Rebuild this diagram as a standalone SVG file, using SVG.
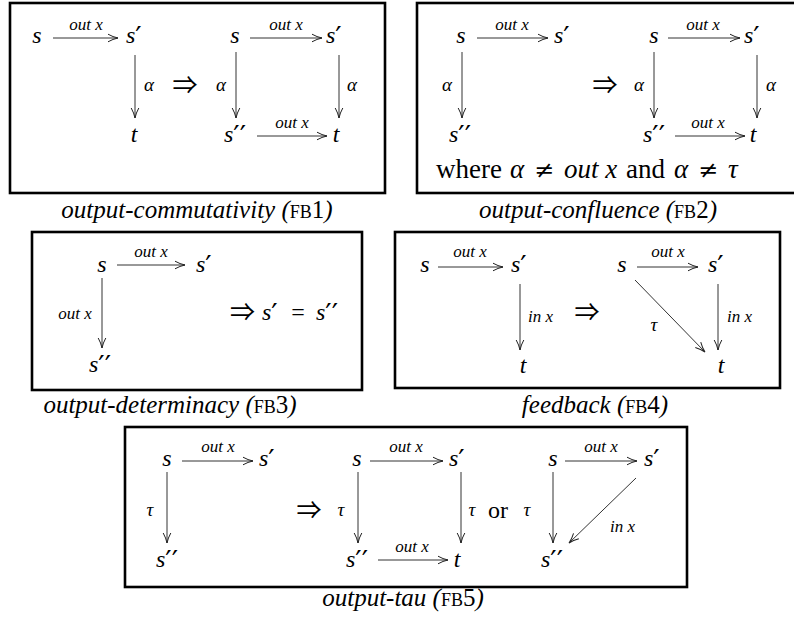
<svg xmlns="http://www.w3.org/2000/svg" width="794" height="623" viewBox="0 0 794 623">
<defs>
<marker id="ah" viewBox="0 0 12 10" refX="11" refY="5" markerWidth="12" markerHeight="10" markerUnits="userSpaceOnUse" orient="auto">
<path d="M1,1.2 Q6,4 11,5 Q6,6 1,8.8" fill="none" stroke="#222" stroke-width="1"/>
</marker>
<style>
.box{fill:none;stroke:#000;stroke-width:2.6}
.ar{stroke:#333;stroke-width:1;fill:none;marker-end:url(#ah)}
.m{font-family:"Liberation Serif","Times New Roman",serif;font-style:italic;font-size:24px;fill:#000}
.p{font-family:"DejaVu Sans",sans-serif;font-style:normal;font-size:28px}
.l{font-family:"Liberation Serif","Times New Roman",serif;font-style:italic;font-size:17px;fill:#000}
.g{font-family:"Liberation Serif","Times New Roman",serif;font-style:italic;font-size:19px;fill:#000}
.r{font-family:"Liberation Serif","Times New Roman",serif;font-style:normal;font-size:24px;fill:#000}
.op{font-family:"Noto Sans CJK JP","DejaVu Serif",serif;font-style:normal;font-size:25px;fill:#000}
.ne{font-family:"DejaVu Serif",serif;font-style:normal;font-size:24px;fill:#000}
.w{font-family:"Liberation Serif","Times New Roman",serif;font-size:27px;fill:#000}
.cap{font-family:"Liberation Serif","Times New Roman",serif;font-style:italic;font-size:25px;fill:#000}
.sc{font-style:normal;font-size:18px}
.up{font-style:normal}
</style>
</defs>

<g id="frames">
<rect class="box" x="10" y="3" width="375" height="190"/>
<rect class="box" x="417" y="3" width="385" height="190"/>
<rect class="box" x="32" y="232" width="330" height="158"/>
<rect class="box" x="395" y="232" width="385" height="156"/>
<rect class="box" x="125" y="427" width="562" height="160"/>
</g>

<g id="connectors">
<line class="ar" x1="53" y1="38" x2="118" y2="38"/>
<line class="ar" x1="135" y1="55" x2="135" y2="118"/>
<line class="ar" x1="250" y1="38" x2="322" y2="38"/>
<line class="ar" x1="236" y1="52" x2="236" y2="118"/>
<line class="ar" x1="339" y1="55" x2="339" y2="118"/>
<line class="ar" x1="257" y1="136" x2="327" y2="136"/>
<line class="ar" x1="477" y1="38" x2="548" y2="38"/>
<line class="ar" x1="462" y1="52" x2="462" y2="118"/>
<line class="ar" x1="668" y1="38" x2="740" y2="38"/>
<line class="ar" x1="654" y1="52" x2="654" y2="118"/>
<line class="ar" x1="757" y1="55" x2="757" y2="118"/>
<line class="ar" x1="675" y1="136" x2="745" y2="136"/>
<line class="ar" x1="117" y1="265" x2="185" y2="265"/>
<line class="ar" x1="102" y1="278" x2="102" y2="348"/>
<line class="ar" x1="438" y1="267" x2="503" y2="267"/>
<line class="ar" x1="520" y1="284" x2="520" y2="350"/>
<line class="ar" x1="637" y1="267" x2="698" y2="267"/>
<line class="ar" x1="718" y1="284" x2="718" y2="350"/>
<line class="ar" x1="635" y1="280" x2="705" y2="352"/>
<line class="ar" x1="182" y1="461" x2="253" y2="461"/>
<line class="ar" x1="167" y1="472" x2="167" y2="543"/>
<line class="ar" x1="370" y1="461" x2="443" y2="461"/>
<line class="ar" x1="358" y1="472" x2="358" y2="543"/>
<line class="ar" x1="461" y1="472" x2="461" y2="543"/>
<line class="ar" x1="378" y1="560" x2="448" y2="560"/>
<line class="ar" x1="565" y1="461" x2="637" y2="461"/>
<line class="ar" x1="553" y1="472" x2="553" y2="543"/>
<line class="ar" x1="636" y1="478" x2="569" y2="543"/>
</g>

<g id="fb1">
<text class="m" x="37" y="43" text-anchor="middle">s</text>
<text class="l" x="86" y="30" text-anchor="middle">out x</text>
<text class="m" x="126" y="43">s<tspan class="p" dy="4">′</tspan></text>
<text class="g" x="149" y="91" text-anchor="middle">α</text>
<text class="m" x="134" y="142" text-anchor="middle">t</text>
<text class="op" x="185" y="94" text-anchor="middle">⇒</text>
<text class="m" x="235" y="43" text-anchor="middle">s</text>
<text class="l" x="286" y="30" text-anchor="middle">out x</text>
<text class="m" x="326" y="43">s<tspan class="p" dy="4">′</tspan></text>
<text class="g" x="221" y="91" text-anchor="middle">α</text>
<text class="g" x="352" y="91" text-anchor="middle">α</text>
<text class="m" x="224" y="142">s<tspan class="p" dy="4">′′</tspan></text>
<text class="l" x="292" y="128" text-anchor="middle">out x</text>
<text class="m" x="336" y="142" text-anchor="middle">t</text>
<text class="cap" x="197" y="218" text-anchor="middle">output-commutativity (<tspan class="sc">FB</tspan><tspan class="up">1</tspan>)</text>
</g>

<g id="fb2">
<text class="m" x="461" y="43" text-anchor="middle">s</text>
<text class="l" x="512" y="30" text-anchor="middle">out x</text>
<text class="m" x="554" y="43">s<tspan class="p" dy="4">′</tspan></text>
<text class="g" x="447" y="91" text-anchor="middle">α</text>
<text class="m" x="449" y="142">s<tspan class="p" dy="4">′′</tspan></text>
<text class="op" x="605" y="94" text-anchor="middle">⇒</text>
<text class="m" x="654" y="43" text-anchor="middle">s</text>
<text class="l" x="703" y="30" text-anchor="middle">out x</text>
<text class="m" x="744" y="43">s<tspan class="p" dy="4">′</tspan></text>
<text class="g" x="639" y="91" text-anchor="middle">α</text>
<text class="g" x="771" y="91" text-anchor="middle">α</text>
<text class="m" x="643" y="142">s<tspan class="p" dy="4">′′</tspan></text>
<text class="l" x="708" y="128" text-anchor="middle">out x</text>
<text class="m" x="753" y="142" text-anchor="middle">t</text>
<text class="w" x="436" y="178">where</text>
<text class="w" x="510" y="178" font-style="italic">α</text>
<text class="ne" x="534" y="178">≠</text>
<text class="w" x="564" y="178" font-style="italic">out x</text>
<text class="w" x="626" y="178">and</text>
<text class="w" x="674" y="178" font-style="italic">α</text>
<text class="ne" x="698" y="178">≠</text>
<text class="w" x="728" y="178" font-style="italic">τ</text>
<text class="cap" x="598" y="218" text-anchor="middle">output-confluence (<tspan class="sc">FB</tspan><tspan class="up">2</tspan>)</text>
</g>

<g id="fb3">
<text class="m" x="102" y="272" text-anchor="middle">s</text>
<text class="l" x="151" y="257" text-anchor="middle">out x</text>
<text class="m" x="196" y="272">s<tspan class="p" dy="4">′</tspan></text>
<text class="l" x="75" y="319" text-anchor="middle">out x</text>
<text class="m" x="89" y="372">s<tspan class="p" dy="4">′′</tspan></text>
<text class="op" x="230" y="321">⇒</text>
<text class="m" x="262" y="320">s<tspan class="p" dy="4">′</tspan></text>
<text class="r" x="298" y="320" text-anchor="middle">=</text>
<text class="m" x="316" y="320">s<tspan class="p" dy="4">′′</tspan></text>
<text class="cap" x="170" y="413" text-anchor="middle">output-determinacy (<tspan class="sc">FB</tspan><tspan class="up">3</tspan>)</text>
</g>

<g id="fb4">
<text class="m" x="425" y="272" text-anchor="middle">s</text>
<text class="l" x="470" y="257" text-anchor="middle">out x</text>
<text class="m" x="511" y="272">s<tspan class="p" dy="4">′</tspan></text>
<text class="l" x="528" y="322">in x</text>
<text class="m" x="523" y="373" text-anchor="middle">t</text>
<text class="op" x="587" y="321" text-anchor="middle">⇒</text>
<text class="m" x="622" y="272" text-anchor="middle">s</text>
<text class="l" x="668" y="257" text-anchor="middle">out x</text>
<text class="m" x="708" y="272">s<tspan class="p" dy="4">′</tspan></text>
<text class="l" x="727" y="322">in x</text>
<text class="g" x="654" y="331" text-anchor="middle">τ</text>
<text class="m" x="721" y="373" text-anchor="middle">t</text>
<text class="cap" x="595" y="413" text-anchor="middle">feedback (<tspan class="sc">FB</tspan><tspan class="up">4</tspan>)</text>
</g>

<g id="fb5">
<text class="m" x="167" y="466" text-anchor="middle">s</text>
<text class="l" x="218" y="452" text-anchor="middle">out x</text>
<text class="m" x="259" y="466">s<tspan class="p" dy="4">′</tspan></text>
<text class="g" x="150" y="516" text-anchor="middle">τ</text>
<text class="m" x="156" y="567">s<tspan class="p" dy="4">′′</tspan></text>
<text class="op" x="309" y="519" text-anchor="middle">⇒</text>
<text class="m" x="357" y="466" text-anchor="middle">s</text>
<text class="l" x="406" y="452" text-anchor="middle">out x</text>
<text class="m" x="449" y="466">s<tspan class="p" dy="4">′</tspan></text>
<text class="g" x="341" y="516" text-anchor="middle">τ</text>
<text class="g" x="472" y="516" text-anchor="middle">τ</text>
<text class="m" x="346" y="567">s<tspan class="p" dy="4">′′</tspan></text>
<text class="l" x="412" y="552" text-anchor="middle">out x</text>
<text class="m" x="457" y="567" text-anchor="middle">t</text>
<text class="r" x="498" y="518" text-anchor="middle">or</text>
<text class="g" x="527" y="516" text-anchor="middle">τ</text>
<text class="m" x="553" y="466" text-anchor="middle">s</text>
<text class="l" x="601" y="452" text-anchor="middle">out x</text>
<text class="m" x="644" y="466">s<tspan class="p" dy="4">′</tspan></text>
<text class="l" x="610" y="532">in x</text>
<text class="m" x="541" y="567">s<tspan class="p" dy="4">′′</tspan></text>
<text class="cap" x="403" y="606" text-anchor="middle">output-tau (<tspan class="sc">FB</tspan><tspan class="up">5</tspan>)</text>
</g>
</svg>
